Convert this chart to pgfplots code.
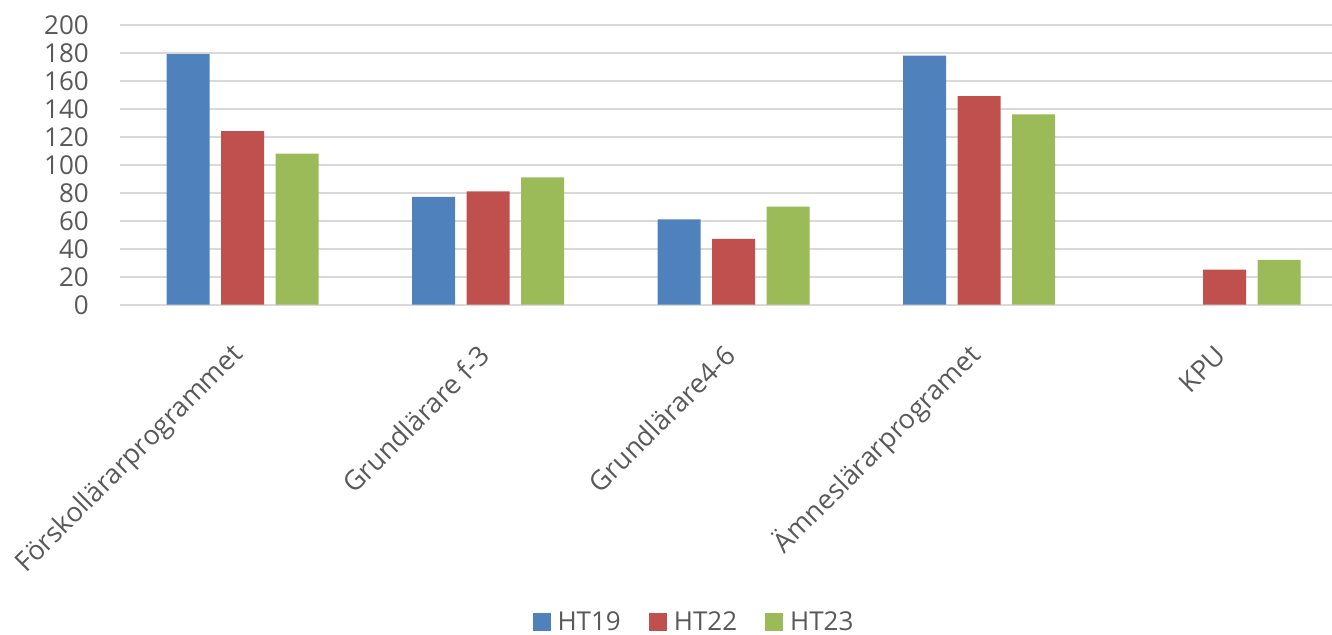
\documentclass[border=0pt]{standalone}
\usepackage{pgfplots}
\pgfplotsset{compat=1.18}
\usepackage{fontspec}
\setmainfont{Open Sans}
\definecolor{txt}{RGB}{89,89,89}
\definecolor{gridc}{RGB}{217,217,217}
\definecolor{c1}{RGB}{79,129,189}
\definecolor{c2}{RGB}{192,80,77}
\definecolor{c3}{RGB}{155,187,89}
\begin{document}
\begin{tikzpicture}
\useasboundingbox (-120bp,-330.3bp) rectangle (1212bp,304.7bp);
\begin{axis}[
  at={(0,0)}, anchor=south west,
  scale only axis,
  width=1227.5bp, height=280bp,
  ymin=0, ymax=200,
  xmin=-0.5, xmax=4.5,
  ytick={0,20,...,200},
  xtick={0,1,2,3,4},
  xticklabels={Förskollärarprogrammet,Grundlärare f-3,Grundlärare4-6,Ämneslärarprogramet,KPU},
  ybar=11.5bp, bar width=43bp,
  axis line style={draw=none},
  tick style={draw=none},
  ymajorgrids,
  grid style={gridc, line width=1.6bp},
  /pgf/number format/assume math mode=true,
  tick label style={font=\fontsize{26bp}{31bp}\selectfont, text=txt},
  yticklabel style={anchor=east, inner sep=0pt, xshift=-31bp},
  xticklabel style={font=\fontsize{27bp}{32bp}\selectfont, rotate=45, anchor=east, inner sep=0pt, xshift=-32bp, yshift=-27bp},
  legend columns=3,
  legend style={draw=none, at={(0.4676,-1.133)}, anchor=center,
    font=\fontsize{26bp}{31bp}\selectfont, text=txt,
    /tikz/every odd column/.append style={column sep=5bp},
    /tikz/every even column/.append style={column sep=26bp}},
  legend image code/.code={\fill[#1] (0bp,-9bp) rectangle (18bp,9bp);},
]
\addplot[fill=c1, draw=none] coordinates {(0,179) (1,77) (2,61) (3,178)};
\addplot[fill=c2, draw=none] coordinates {(0,124) (1,81) (2,47) (3,149) (4,25)};
\addplot[fill=c3, draw=none] coordinates {(0,108) (1,91) (2,70) (3,136) (4,32)};
\legend{HT19,HT22,HT23}
\end{axis}
\end{tikzpicture}
\end{document}
